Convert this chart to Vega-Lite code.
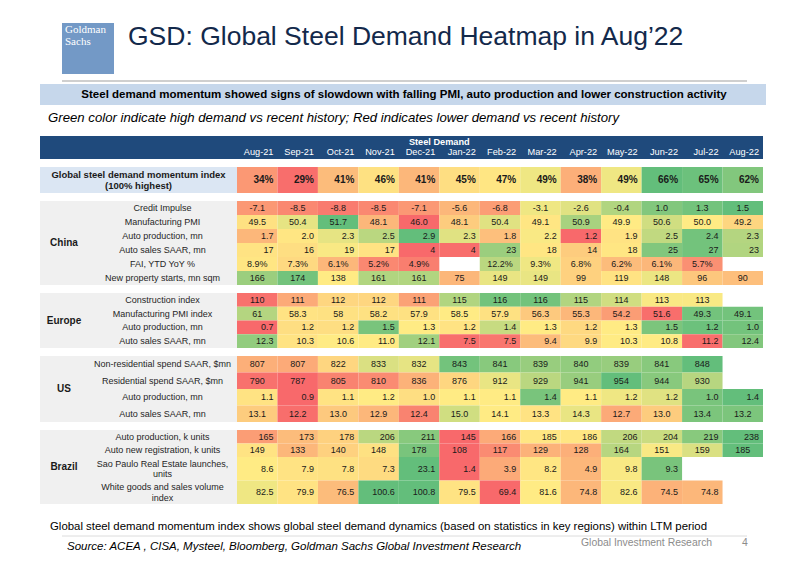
{
"$schema": "https://vega.github.io/schema/vega-lite/v6.json",
"background": "white",
"padding": {"left": 40, "top": 0, "right": 0, "bottom": 0},
"autosize": {"type": "pad"},
"spacing": 8,
"datasets": {
"months": [{"m":"Aug-21"},{"m":"Sep-21"},{"m":"Oct-21"},{"m":"Nov-21"},{"m":"Dec-21"},{"m":"Jan-22"},{"m":"Feb-22"},{"m":"Mar-22"},{"m":"Apr-22"},{"m":"May-22"},{"m":"Jun-22"},{"m":"Jul-22"},{"m":"Aug-22"}],
"cells": [
{"s":"Index","r":"Index","m":"Aug-21","v":"34%","c":0.18},
{"s":"Index","r":"Index","m":"Sep-21","v":"29%","c":0.02},
{"s":"Index","r":"Index","m":"Oct-21","v":"41%","c":0.32},
{"s":"Index","r":"Index","m":"Nov-21","v":"46%","c":0.46},
{"s":"Index","r":"Index","m":"Dec-21","v":"41%","c":0.30},
{"s":"Index","r":"Index","m":"Jan-22","v":"45%","c":0.45},
{"s":"Index","r":"Index","m":"Feb-22","v":"47%","c":0.48},
{"s":"Index","r":"Index","m":"Mar-22","v":"49%","c":0.55},
{"s":"Index","r":"Index","m":"Apr-22","v":"38%","c":0.27},
{"s":"Index","r":"Index","m":"May-22","v":"49%","c":0.55},
{"s":"Index","r":"Index","m":"Jun-22","v":"66%","c":1.0},
{"s":"Index","r":"Index","m":"Jul-22","v":"65%","c":0.97},
{"s":"Index","r":"Index","m":"Aug-22","v":"62%","c":0.9},

{"s":"China","r":"Credit Impulse","m":"Aug-21","v":"-7.1","c":0.18},
{"s":"China","r":"Credit Impulse","m":"Sep-21","v":"-8.5","c":0.12},
{"s":"China","r":"Credit Impulse","m":"Oct-21","v":"-8.8","c":0.07},
{"s":"China","r":"Credit Impulse","m":"Nov-21","v":"-8.5","c":0.12},
{"s":"China","r":"Credit Impulse","m":"Dec-21","v":"-7.1","c":0.18},
{"s":"China","r":"Credit Impulse","m":"Jan-22","v":"-5.6","c":0.3},
{"s":"China","r":"Credit Impulse","m":"Feb-22","v":"-6.8","c":0.2},
{"s":"China","r":"Credit Impulse","m":"Mar-22","v":"-3.1","c":0.55},
{"s":"China","r":"Credit Impulse","m":"Apr-22","v":"-2.6","c":0.6},
{"s":"China","r":"Credit Impulse","m":"May-22","v":"-0.4","c":0.75},
{"s":"China","r":"Credit Impulse","m":"Jun-22","v":"1.0","c":0.9},
{"s":"China","r":"Credit Impulse","m":"Jul-22","v":"1.3","c":0.95},
{"s":"China","r":"Credit Impulse","m":"Aug-22","v":"1.5","c":1.0},

{"s":"China","r":"Manufacturing PMI","m":"Aug-21","v":"49.5","c":0.46},
{"s":"China","r":"Manufacturing PMI","m":"Sep-21","v":"50.4","c":0.58},
{"s":"China","r":"Manufacturing PMI","m":"Oct-21","v":"51.7","c":1.0},
{"s":"China","r":"Manufacturing PMI","m":"Nov-21","v":"48.1","c":0.3},
{"s":"China","r":"Manufacturing PMI","m":"Dec-21","v":"46.0","c":0.0},
{"s":"China","r":"Manufacturing PMI","m":"Jan-22","v":"48.1","c":0.38},
{"s":"China","r":"Manufacturing PMI","m":"Feb-22","v":"50.4","c":0.6},
{"s":"China","r":"Manufacturing PMI","m":"Mar-22","v":"49.1","c":0.48},
{"s":"China","r":"Manufacturing PMI","m":"Apr-22","v":"50.9","c":0.78},
{"s":"China","r":"Manufacturing PMI","m":"May-22","v":"49.9","c":0.5},
{"s":"China","r":"Manufacturing PMI","m":"Jun-22","v":"50.6","c":0.65},
{"s":"China","r":"Manufacturing PMI","m":"Jul-22","v":"50.0","c":0.5},
{"s":"China","r":"Manufacturing PMI","m":"Aug-22","v":"49.2","c":0.42},

{"s":"China","r":"Auto production, mn","m":"Aug-21","v":"1.7","c":0.3},
{"s":"China","r":"Auto production, mn","m":"Sep-21","v":"2.0","c":0.48},
{"s":"China","r":"Auto production, mn","m":"Oct-21","v":"2.3","c":0.58},
{"s":"China","r":"Auto production, mn","m":"Nov-21","v":"2.5","c":0.72},
{"s":"China","r":"Auto production, mn","m":"Dec-21","v":"2.9","c":1.0},
{"s":"China","r":"Auto production, mn","m":"Jan-22","v":"2.3","c":0.6},
{"s":"China","r":"Auto production, mn","m":"Feb-22","v":"1.8","c":0.33},
{"s":"China","r":"Auto production, mn","m":"Mar-22","v":"2.2","c":0.52},
{"s":"China","r":"Auto production, mn","m":"Apr-22","v":"1.2","c":0.0},
{"s":"China","r":"Auto production, mn","m":"May-22","v":"1.9","c":0.47},
{"s":"China","r":"Auto production, mn","m":"Jun-22","v":"2.5","c":0.7},
{"s":"China","r":"Auto production, mn","m":"Jul-22","v":"2.4","c":0.95},
{"s":"China","r":"Auto production, mn","m":"Aug-22","v":"2.3","c":0.74},

{"s":"China","r":"Auto sales SAAR, mn","m":"Aug-21","v":"17","c":0.47},
{"s":"China","r":"Auto sales SAAR, mn","m":"Sep-21","v":"16","c":0.45},
{"s":"China","r":"Auto sales SAAR, mn","m":"Oct-21","v":"19","c":0.52},
{"s":"China","r":"Auto sales SAAR, mn","m":"Nov-21","v":"17","c":0.47},
{"s":"China","r":"Auto sales SAAR, mn","m":"Dec-21","v":"4","c":0.0},
{"s":"China","r":"Auto sales SAAR, mn","m":"Jan-22","v":"4","c":0.02},
{"s":"China","r":"Auto sales SAAR, mn","m":"Feb-22","v":"23","c":0.82},
{"s":"China","r":"Auto sales SAAR, mn","m":"Mar-22","v":"18","c":0.48},
{"s":"China","r":"Auto sales SAAR, mn","m":"Apr-22","v":"14","c":0.38},
{"s":"China","r":"Auto sales SAAR, mn","m":"May-22","v":"18","c":0.48},
{"s":"China","r":"Auto sales SAAR, mn","m":"Jun-22","v":"25","c":0.9},
{"s":"China","r":"Auto sales SAAR, mn","m":"Jul-22","v":"27","c":0.95},
{"s":"China","r":"Auto sales SAAR, mn","m":"Aug-22","v":"23","c":0.75},

{"s":"China","r":"FAI, YTD YoY %","m":"Aug-21","v":"8.9%","c":0.48},
{"s":"China","r":"FAI, YTD YoY %","m":"Sep-21","v":"7.3%","c":0.43},
{"s":"China","r":"FAI, YTD YoY %","m":"Oct-21","v":"6.1%","c":0.3},
{"s":"China","r":"FAI, YTD YoY %","m":"Nov-21","v":"5.2%","c":0.12},
{"s":"China","r":"FAI, YTD YoY %","m":"Dec-21","v":"4.9%","c":0.08},
{"s":"China","r":"FAI, YTD YoY %","m":"Feb-22","v":"12.2%","c":0.72},
{"s":"China","r":"FAI, YTD YoY %","m":"Mar-22","v":"9.3%","c":0.55},
{"s":"China","r":"FAI, YTD YoY %","m":"Apr-22","v":"6.8%","c":0.4},
{"s":"China","r":"FAI, YTD YoY %","m":"May-22","v":"6.2%","c":0.32},
{"s":"China","r":"FAI, YTD YoY %","m":"Jun-22","v":"6.1%","c":0.3},
{"s":"China","r":"FAI, YTD YoY %","m":"Jul-22","v":"5.7%","c":0.15},

{"s":"China","r":"New property starts, mn sqm","m":"Aug-21","v":"166","c":0.82},
{"s":"China","r":"New property starts, mn sqm","m":"Sep-21","v":"174","c":0.95},
{"s":"China","r":"New property starts, mn sqm","m":"Oct-21","v":"138","c":0.5},
{"s":"China","r":"New property starts, mn sqm","m":"Nov-21","v":"161","c":0.75},
{"s":"China","r":"New property starts, mn sqm","m":"Dec-21","v":"161","c":0.75},
{"s":"China","r":"New property starts, mn sqm","m":"Jan-22","v":"75","c":0.3},
{"s":"China","r":"New property starts, mn sqm","m":"Feb-22","v":"149","c":0.57},
{"s":"China","r":"New property starts, mn sqm","m":"Mar-22","v":"149","c":0.57},
{"s":"China","r":"New property starts, mn sqm","m":"Apr-22","v":"99","c":0.4},
{"s":"China","r":"New property starts, mn sqm","m":"May-22","v":"119","c":0.47},
{"s":"China","r":"New property starts, mn sqm","m":"Jun-22","v":"148","c":0.56},
{"s":"China","r":"New property starts, mn sqm","m":"Jul-22","v":"96","c":0.36},
{"s":"China","r":"New property starts, mn sqm","m":"Aug-22","v":"90","c":0.33},

{"s":"Europe","r":"Construction index","m":"Aug-21","v":"110","c":0.03},
{"s":"Europe","r":"Construction index","m":"Sep-21","v":"111","c":0.25},
{"s":"Europe","r":"Construction index","m":"Oct-21","v":"112","c":0.42},
{"s":"Europe","r":"Construction index","m":"Nov-21","v":"112","c":0.42},
{"s":"Europe","r":"Construction index","m":"Dec-21","v":"111","c":0.22},
{"s":"Europe","r":"Construction index","m":"Jan-22","v":"115","c":0.75},
{"s":"Europe","r":"Construction index","m":"Feb-22","v":"116","c":0.95},
{"s":"Europe","r":"Construction index","m":"Mar-22","v":"116","c":0.95},
{"s":"Europe","r":"Construction index","m":"Apr-22","v":"115","c":0.75},
{"s":"Europe","r":"Construction index","m":"May-22","v":"114","c":0.65},
{"s":"Europe","r":"Construction index","m":"Jun-22","v":"113","c":0.52},
{"s":"Europe","r":"Construction index","m":"Jul-22","v":"113","c":0.52},

{"s":"Europe","r":"Manufacturing PMI index","m":"Aug-21","v":"61","c":0.74},
{"s":"Europe","r":"Manufacturing PMI index","m":"Sep-21","v":"58.3","c":0.47},
{"s":"Europe","r":"Manufacturing PMI index","m":"Oct-21","v":"58","c":0.46},
{"s":"Europe","r":"Manufacturing PMI index","m":"Nov-21","v":"58.2","c":0.46},
{"s":"Europe","r":"Manufacturing PMI index","m":"Dec-21","v":"57.9","c":0.46},
{"s":"Europe","r":"Manufacturing PMI index","m":"Jan-22","v":"58.5","c":0.5},
{"s":"Europe","r":"Manufacturing PMI index","m":"Feb-22","v":"57.9","c":0.46},
{"s":"Europe","r":"Manufacturing PMI index","m":"Mar-22","v":"56.3","c":0.37},
{"s":"Europe","r":"Manufacturing PMI index","m":"Apr-22","v":"55.3","c":0.3},
{"s":"Europe","r":"Manufacturing PMI index","m":"May-22","v":"54.2","c":0.2},
{"s":"Europe","r":"Manufacturing PMI index","m":"Jun-22","v":"51.6","c":0.02},
{"s":"Europe","r":"Manufacturing PMI index","m":"Jul-22","v":"49.3","c":0.95},
{"s":"Europe","r":"Manufacturing PMI index","m":"Aug-22","v":"49.1","c":0.95},

{"s":"Europe","r":"Auto production, mn","m":"Aug-21","v":"0.7","c":0.0},
{"s":"Europe","r":"Auto production, mn","m":"Sep-21","v":"1.2","c":0.45},
{"s":"Europe","r":"Auto production, mn","m":"Oct-21","v":"1.2","c":0.45},
{"s":"Europe","r":"Auto production, mn","m":"Nov-21","v":"1.5","c":0.93},
{"s":"Europe","r":"Auto production, mn","m":"Dec-21","v":"1.3","c":0.5},
{"s":"Europe","r":"Auto production, mn","m":"Jan-22","v":"1.2","c":0.47},
{"s":"Europe","r":"Auto production, mn","m":"Feb-22","v":"1.4","c":0.68},
{"s":"Europe","r":"Auto production, mn","m":"Mar-22","v":"1.3","c":0.5},
{"s":"Europe","r":"Auto production, mn","m":"Apr-22","v":"1.2","c":0.43},
{"s":"Europe","r":"Auto production, mn","m":"May-22","v":"1.3","c":0.5},
{"s":"Europe","r":"Auto production, mn","m":"Jun-22","v":"1.5","c":0.92},
{"s":"Europe","r":"Auto production, mn","m":"Jul-22","v":"1.2","c":0.97},
{"s":"Europe","r":"Auto production, mn","m":"Aug-22","v":"1.0","c":0.95},

{"s":"Europe","r":"Auto sales SAAR, mn","m":"Aug-21","v":"12.3","c":0.85},
{"s":"Europe","r":"Auto sales SAAR, mn","m":"Sep-21","v":"10.3","c":0.47},
{"s":"Europe","r":"Auto sales SAAR, mn","m":"Oct-21","v":"10.6","c":0.5},
{"s":"Europe","r":"Auto sales SAAR, mn","m":"Nov-21","v":"11.0","c":0.5},
{"s":"Europe","r":"Auto sales SAAR, mn","m":"Dec-21","v":"12.1","c":0.8},
{"s":"Europe","r":"Auto sales SAAR, mn","m":"Jan-22","v":"7.5","c":0.02},
{"s":"Europe","r":"Auto sales SAAR, mn","m":"Feb-22","v":"7.5","c":0.05},
{"s":"Europe","r":"Auto sales SAAR, mn","m":"Mar-22","v":"9.4","c":0.32},
{"s":"Europe","r":"Auto sales SAAR, mn","m":"Apr-22","v":"9.9","c":0.43},
{"s":"Europe","r":"Auto sales SAAR, mn","m":"May-22","v":"10.3","c":0.5},
{"s":"Europe","r":"Auto sales SAAR, mn","m":"Jun-22","v":"10.8","c":0.5},
{"s":"Europe","r":"Auto sales SAAR, mn","m":"Jul-22","v":"11.2","c":0.02},
{"s":"Europe","r":"Auto sales SAAR, mn","m":"Aug-22","v":"12.4","c":0.9},

{"s":"US","r":"Non-residential spend SAAR, $mn","m":"Aug-21","v":"807","c":0.27},
{"s":"US","r":"Non-residential spend SAAR, $mn","m":"Sep-21","v":"807","c":0.25},
{"s":"US","r":"Non-residential spend SAAR, $mn","m":"Oct-21","v":"822","c":0.42},
{"s":"US","r":"Non-residential spend SAAR, $mn","m":"Nov-21","v":"833","c":0.62},
{"s":"US","r":"Non-residential spend SAAR, $mn","m":"Dec-21","v":"832","c":0.58},
{"s":"US","r":"Non-residential spend SAAR, $mn","m":"Jan-22","v":"843","c":0.95},
{"s":"US","r":"Non-residential spend SAAR, $mn","m":"Feb-22","v":"841","c":0.88},
{"s":"US","r":"Non-residential spend SAAR, $mn","m":"Mar-22","v":"839","c":0.83},
{"s":"US","r":"Non-residential spend SAAR, $mn","m":"Apr-22","v":"840","c":0.85},
{"s":"US","r":"Non-residential spend SAAR, $mn","m":"May-22","v":"839","c":0.83},
{"s":"US","r":"Non-residential spend SAAR, $mn","m":"Jun-22","v":"841","c":0.88},
{"s":"US","r":"Non-residential spend SAAR, $mn","m":"Jul-22","v":"848","c":1.0},

{"s":"US","r":"Residential spend SAAR, $mn","m":"Aug-21","v":"790","c":0.03},
{"s":"US","r":"Residential spend SAAR, $mn","m":"Sep-21","v":"787","c":0.0},
{"s":"US","r":"Residential spend SAAR, $mn","m":"Oct-21","v":"805","c":0.1},
{"s":"US","r":"Residential spend SAAR, $mn","m":"Nov-21","v":"810","c":0.13},
{"s":"US","r":"Residential spend SAAR, $mn","m":"Dec-21","v":"836","c":0.28},
{"s":"US","r":"Residential spend SAAR, $mn","m":"Jan-22","v":"876","c":0.42},
{"s":"US","r":"Residential spend SAAR, $mn","m":"Feb-22","v":"912","c":0.57},
{"s":"US","r":"Residential spend SAAR, $mn","m":"Mar-22","v":"929","c":0.72},
{"s":"US","r":"Residential spend SAAR, $mn","m":"Apr-22","v":"941","c":0.83},
{"s":"US","r":"Residential spend SAAR, $mn","m":"May-22","v":"954","c":1.0},
{"s":"US","r":"Residential spend SAAR, $mn","m":"Jun-22","v":"944","c":0.88},
{"s":"US","r":"Residential spend SAAR, $mn","m":"Jul-22","v":"930","c":0.73},

{"s":"US","r":"Auto production, mn","m":"Aug-21","v":"1.1","c":0.47},
{"s":"US","r":"Auto production, mn","m":"Sep-21","v":"0.9","c":0.0},
{"s":"US","r":"Auto production, mn","m":"Oct-21","v":"1.1","c":0.47},
{"s":"US","r":"Auto production, mn","m":"Nov-21","v":"1.2","c":0.5},
{"s":"US","r":"Auto production, mn","m":"Dec-21","v":"1.0","c":0.45},
{"s":"US","r":"Auto production, mn","m":"Jan-22","v":"1.1","c":0.5},
{"s":"US","r":"Auto production, mn","m":"Feb-22","v":"1.1","c":0.5},
{"s":"US","r":"Auto production, mn","m":"Mar-22","v":"1.4","c":0.93},
{"s":"US","r":"Auto production, mn","m":"Apr-22","v":"1.1","c":0.5},
{"s":"US","r":"Auto production, mn","m":"May-22","v":"1.2","c":0.55},
{"s":"US","r":"Auto production, mn","m":"Jun-22","v":"1.2","c":0.6},
{"s":"US","r":"Auto production, mn","m":"Jul-22","v":"1.0","c":0.93},
{"s":"US","r":"Auto production, mn","m":"Aug-22","v":"1.4","c":1.0},

{"s":"US","r":"Auto sales SAAR, mn","m":"Aug-21","v":"13.1","c":0.38},
{"s":"US","r":"Auto sales SAAR, mn","m":"Sep-21","v":"12.2","c":0.02},
{"s":"US","r":"Auto sales SAAR, mn","m":"Oct-21","v":"13.0","c":0.37},
{"s":"US","r":"Auto sales SAAR, mn","m":"Nov-21","v":"12.9","c":0.3},
{"s":"US","r":"Auto sales SAAR, mn","m":"Dec-21","v":"12.4","c":0.1},
{"s":"US","r":"Auto sales SAAR, mn","m":"Jan-22","v":"15.0","c":0.65},
{"s":"US","r":"Auto sales SAAR, mn","m":"Feb-22","v":"14.1","c":0.5},
{"s":"US","r":"Auto sales SAAR, mn","m":"Mar-22","v":"13.3","c":0.47},
{"s":"US","r":"Auto sales SAAR, mn","m":"Apr-22","v":"14.3","c":0.57},
{"s":"US","r":"Auto sales SAAR, mn","m":"May-22","v":"12.7","c":0.25},
{"s":"US","r":"Auto sales SAAR, mn","m":"Jun-22","v":"13.0","c":0.38},
{"s":"US","r":"Auto sales SAAR, mn","m":"Jul-22","v":"13.4","c":0.92},
{"s":"US","r":"Auto sales SAAR, mn","m":"Aug-22","v":"13.2","c":0.92},

{"s":"Brazil","r":"Auto production, k units","m":"Aug-21","v":"165","c":0.2},
{"s":"Brazil","r":"Auto production, k units","m":"Sep-21","v":"173","c":0.32},
{"s":"Brazil","r":"Auto production, k units","m":"Oct-21","v":"178","c":0.4},
{"s":"Brazil","r":"Auto production, k units","m":"Nov-21","v":"206","c":0.72},
{"s":"Brazil","r":"Auto production, k units","m":"Dec-21","v":"211","c":0.88},
{"s":"Brazil","r":"Auto production, k units","m":"Jan-22","v":"145","c":0.0},
{"s":"Brazil","r":"Auto production, k units","m":"Feb-22","v":"166","c":0.25},
{"s":"Brazil","r":"Auto production, k units","m":"Mar-22","v":"185","c":0.48},
{"s":"Brazil","r":"Auto production, k units","m":"Apr-22","v":"186","c":0.48},
{"s":"Brazil","r":"Auto production, k units","m":"May-22","v":"206","c":0.7},
{"s":"Brazil","r":"Auto production, k units","m":"Jun-22","v":"204","c":0.67},
{"s":"Brazil","r":"Auto production, k units","m":"Jul-22","v":"219","c":0.88},
{"s":"Brazil","r":"Auto production, k units","m":"Aug-22","v":"238","c":1.0},

{"s":"Brazil","r":"Auto new registration, k units","m":"Aug-21","v":"149","c":0.47},
{"s":"Brazil","r":"Auto new registration, k units","m":"Sep-21","v":"133","c":0.3},
{"s":"Brazil","r":"Auto new registration, k units","m":"Oct-21","v":"140","c":0.4},
{"s":"Brazil","r":"Auto new registration, k units","m":"Nov-21","v":"148","c":0.46},
{"s":"Brazil","r":"Auto new registration, k units","m":"Dec-21","v":"178","c":0.93},
{"s":"Brazil","r":"Auto new registration, k units","m":"Jan-22","v":"108","c":0.0},
{"s":"Brazil","r":"Auto new registration, k units","m":"Feb-22","v":"117","c":0.13},
{"s":"Brazil","r":"Auto new registration, k units","m":"Mar-22","v":"129","c":0.28},
{"s":"Brazil","r":"Auto new registration, k units","m":"Apr-22","v":"128","c":0.27},
{"s":"Brazil","r":"Auto new registration, k units","m":"May-22","v":"164","c":0.73},
{"s":"Brazil","r":"Auto new registration, k units","m":"Jun-22","v":"151","c":0.52},
{"s":"Brazil","r":"Auto new registration, k units","m":"Jul-22","v":"159","c":0.62},
{"s":"Brazil","r":"Auto new registration, k units","m":"Aug-22","v":"185","c":1.0},

{"s":"Brazil2","r":"Sao Paulo Real Estate launches,\nunits","m":"Aug-21","v":"8.6","c":0.5},
{"s":"Brazil2","r":"Sao Paulo Real Estate launches,\nunits","m":"Sep-21","v":"7.9","c":0.47},
{"s":"Brazil2","r":"Sao Paulo Real Estate launches,\nunits","m":"Oct-21","v":"7.8","c":0.46},
{"s":"Brazil2","r":"Sao Paulo Real Estate launches,\nunits","m":"Nov-21","v":"7.3","c":0.44},
{"s":"Brazil2","r":"Sao Paulo Real Estate launches,\nunits","m":"Dec-21","v":"23.1","c":1.0},
{"s":"Brazil2","r":"Sao Paulo Real Estate launches,\nunits","m":"Jan-22","v":"1.4","c":0.0},
{"s":"Brazil2","r":"Sao Paulo Real Estate launches,\nunits","m":"Feb-22","v":"3.9","c":0.25},
{"s":"Brazil2","r":"Sao Paulo Real Estate launches,\nunits","m":"Mar-22","v":"8.2","c":0.48},
{"s":"Brazil2","r":"Sao Paulo Real Estate launches,\nunits","m":"Apr-22","v":"4.9","c":0.3},
{"s":"Brazil2","r":"Sao Paulo Real Estate launches,\nunits","m":"May-22","v":"9.8","c":0.52},
{"s":"Brazil2","r":"Sao Paulo Real Estate launches,\nunits","m":"Jun-22","v":"9.3","c":0.93},

{"s":"Brazil2","r":"White goods and sales volume\nindex","m":"Aug-21","v":"82.5","c":0.55},
{"s":"Brazil2","r":"White goods and sales volume\nindex","m":"Sep-21","v":"79.9","c":0.47},
{"s":"Brazil2","r":"White goods and sales volume\nindex","m":"Oct-21","v":"76.5","c":0.32},
{"s":"Brazil2","r":"White goods and sales volume\nindex","m":"Nov-21","v":"100.6","c":1.0},
{"s":"Brazil2","r":"White goods and sales volume\nindex","m":"Dec-21","v":"100.8","c":1.0},
{"s":"Brazil2","r":"White goods and sales volume\nindex","m":"Jan-22","v":"79.5","c":0.47},
{"s":"Brazil2","r":"White goods and sales volume\nindex","m":"Feb-22","v":"69.4","c":0.0},
{"s":"Brazil2","r":"White goods and sales volume\nindex","m":"Mar-22","v":"81.6","c":0.5},
{"s":"Brazil2","r":"White goods and sales volume\nindex","m":"Apr-22","v":"74.8","c":0.3},
{"s":"Brazil2","r":"White goods and sales volume\nindex","m":"May-22","v":"82.6","c":0.52},
{"s":"Brazil2","r":"White goods and sales volume\nindex","m":"Jun-22","v":"74.5","c":0.28},
{"s":"Brazil2","r":"White goods and sales volume\nindex","m":"Jul-22","v":"74.8","c":0.3}
]
},
"vconcat": [
{
"width": 725, "height": 128,
"data": {"values": [{}]},
"layer": [
{"mark": {"type": "rect", "color": "#7399c6"}, "encoding": {"x": {"value": 22}, "x2": {"value": 74}, "y": {"value": 23}, "y2": {"value": 74}}},
{"data": {"values": [{"t": "Goldman\nSachs"}]}, "mark": {"type": "text", "font": "Liberation Serif", "fontSize": 11, "lineBreak": "\n", "lineHeight": 12, "color": "white", "align": "left", "baseline": "alphabetic"}, "encoding": {"x": {"value": 25}, "y": {"value": 33}, "text": {"field": "t"}}},
{"data": {"values": [{"t": "GSD: Global Steel Demand Heatmap in Aug’22"}]}, "mark": {"type": "text", "fontSize": 26.5, "color": "#13294b", "align": "left", "baseline": "alphabetic"}, "encoding": {"x": {"value": 88}, "y": {"value": 45}, "text": {"field": "t"}}},
{"mark": {"type": "rule", "color": "#cfcfcf", "strokeWidth": 2}, "encoding": {"x": {"value": 22}, "x2": {"value": 707}, "y": {"value": 81}}},
{"mark": {"type": "rect", "color": "#c6d7eb"}, "encoding": {"x": {"value": 0}, "x2": {"value": 726}, "y": {"value": 84}, "y2": {"value": 105}}},
{"data": {"values": [{"t": "Steel demand momentum showed signs of slowdown with falling PMI, auto production and lower construction activity"}]}, "mark": {"type": "text", "fontSize": 11.5, "fontWeight": "bold", "color": "#000000", "align": "center", "baseline": "middle"}, "encoding": {"x": {"value": 364}, "y": {"value": 95}, "text": {"field": "t"}}},
{"data": {"values": [{"t": "Green color indicate high demand vs recent history; Red indicates lower demand vs recent history"}]}, "mark": {"type": "text", "fontSize": 13.2, "fontStyle": "italic", "color": "#000000", "align": "left", "baseline": "middle"}, "encoding": {"x": {"value": 8}, "y": {"value": 118}, "text": {"field": "t"}}}
]
},
{
"hconcat": [
{"width": 197, "height": 23, "view": {"fill": "#1f4a7c", "stroke": null}, "data": {"values": [{"t": ""}]}, "mark": {"type": "text"}, "encoding": {"text": {"field": "t"}}},
{"width": 526, "height": 23, "view": {"fill": "#1f4a7c", "stroke": null},
 "layer": [
 {"data": {"name": "months"}, "mark": {"type": "text", "align": "right", "dx": -4, "baseline": "middle", "color": "white", "fontSize": 9.2},
  "encoding": {"x": {"field": "m", "type": "ordinal", "bandPosition": 1, "axis": null, "scale": {"type": "band", "domain": ["Aug-21","Sep-21","Oct-21","Nov-21","Dec-21","Jan-22","Feb-22","Mar-22","Apr-22","May-22","Jun-22","Jul-22","Aug-22"], "paddingInner": 0, "paddingOuter": 0}}, "y": {"value": 16}, "text": {"field": "m"}}},
 {"data": {"values": [{"t": "Steel Demand", "m": "Jan-22"}]}, "mark": {"type": "text", "align": "center", "baseline": "middle", "color": "white", "fontSize": 9.2, "fontWeight": "bold"},
  "encoding": {"x": {"field": "m", "type": "ordinal", "bandPosition": 0, "axis": null}, "y": {"value": 6}, "text": {"field": "t"}}}
 ]
}
],
"spacing": 0
},
{
"hconcat": [
{"width": 197, "height": 26, "view": {"fill": "#dbe6f3", "stroke": null}, "data": {"values": [{"t": "Global steel demand momentum index\n(100% highest)"}]}, "mark": {"type": "text", "fontWeight": "bold", "fontSize": 9.5, "lineBreak": "\n", "lineHeight": 11, "dy": -5.5, "baseline": "middle", "align": "center"}, "encoding": {"text": {"field": "t"}}},
{"width": 526, "height": 26, "data": {"name": "cells"}, "transform": [{"filter": {"field": "s", "equal": "Index"}}],
 "encoding": {"x": {"field": "m", "type": "ordinal", "axis": null, "scale": {"type": "band", "domain": ["Aug-21","Sep-21","Oct-21","Nov-21","Dec-21","Jan-22","Feb-22","Mar-22","Apr-22","May-22","Jun-22","Jul-22","Aug-22"], "paddingInner": 0, "paddingOuter": 0}},
  "y": {"field": "r", "type": "nominal", "axis": null, "scale": {"type": "band", "domain": ["Index"], "paddingInner": 0, "paddingOuter": 0}}},
 "layer": [
 {"mark": {"type": "rect"}, "encoding": {"color": {"field": "c", "type": "quantitative", "legend": null, "scale": {"domain": [0, 0.5, 1], "range": ["#f8696b", "#ffeb84", "#63be7b"], "interpolate": "rgb"}}}},
 {"mark": {"type": "text", "align": "right", "dx": -4, "baseline": "middle", "fontWeight": "bold", "fontSize": 10}, "encoding": {"x": {"field": "m", "type": "ordinal", "bandPosition": 1, "axis": null}, "text": {"field": "v"}}}
 ]
}
],
"spacing": 0
},
{
"hconcat": [
{"width": 48, "height": 84, "view": {"fill": "#f0f0f0", "stroke": null}, "data": {"values": [{"t": "China"}]}, "mark": {"type": "text", "fontWeight": "bold", "fontSize": 10, "baseline": "middle"}, "encoding": {"text": {"field": "t"}}},
{"width": 149, "height": 84, "view": {"fill": "#f0f0f0", "stroke": null}, "data": {"values": [{"r": "Credit Impulse"}, {"r": "Manufacturing PMI"}, {"r": "Auto production, mn"}, {"r": "Auto sales SAAR, mn"}, {"r": "FAI, YTD YoY %"}, {"r": "New property starts, mn sqm"}]},
 "mark": {"type": "text", "baseline": "middle", "color": "#262626"},
 "encoding": {"y": {"field": "r", "type": "nominal", "axis": null, "scale": {"type": "band", "domain": ["Credit Impulse", "Manufacturing PMI", "Auto production, mn", "Auto sales SAAR, mn", "FAI, YTD YoY %", "New property starts, mn sqm"], "paddingInner": 0, "paddingOuter": 0}}, "text": {"field": "r"}}},
{"width": 526, "height": 84, "data": {"name": "cells"}, "transform": [{"filter": {"field": "s", "equal": "China"}}],
 "encoding": {"x": {"field": "m", "type": "ordinal", "axis": null, "scale": {"type": "band", "domain": ["Aug-21","Sep-21","Oct-21","Nov-21","Dec-21","Jan-22","Feb-22","Mar-22","Apr-22","May-22","Jun-22","Jul-22","Aug-22"], "paddingInner": 0, "paddingOuter": 0}},
  "y": {"field": "r", "type": "nominal", "axis": null, "scale": {"type": "band", "domain": ["Credit Impulse", "Manufacturing PMI", "Auto production, mn", "Auto sales SAAR, mn", "FAI, YTD YoY %", "New property starts, mn sqm"], "paddingInner": 0, "paddingOuter": 0}}},
 "layer": [
 {"mark": {"type": "rect"}, "encoding": {"color": {"field": "c", "type": "quantitative", "legend": null, "scale": {"domain": [0, 0.5, 1], "range": ["#f8696b", "#ffeb84", "#63be7b"], "interpolate": "rgb"}}}},
 {"transform": [{"filter": {"not": {"field": "r", "oneOf": ["Auto production, mn", "Auto sales SAAR, mn"]}}}], "mark": {"type": "text", "align": "center", "baseline": "middle"}, "encoding": {"text": {"field": "v"}}},
 {"transform": [{"filter": {"field": "r", "oneOf": ["Auto production, mn", "Auto sales SAAR, mn"]}}], "mark": {"type": "text", "align": "right", "dx": -4, "baseline": "middle"}, "encoding": {"x": {"field": "m", "type": "ordinal", "bandPosition": 1, "axis": null}, "text": {"field": "v"}}}
 ]
}
],
"spacing": 0
},
{
"hconcat": [
{"width": 48, "height": 55, "view": {"fill": "#f0f0f0", "stroke": null}, "data": {"values": [{"t": "Europe"}]}, "mark": {"type": "text", "fontWeight": "bold", "fontSize": 10, "baseline": "middle"}, "encoding": {"text": {"field": "t"}}},
{"width": 149, "height": 55, "view": {"fill": "#f0f0f0", "stroke": null}, "data": {"values": [{"r": "Construction index"}, {"r": "Manufacturing PMI index"}, {"r": "Auto production, mn"}, {"r": "Auto sales SAAR, mn"}]},
 "mark": {"type": "text", "baseline": "middle", "color": "#262626"},
 "encoding": {"y": {"field": "r", "type": "nominal", "axis": null, "scale": {"type": "band", "domain": ["Construction index", "Manufacturing PMI index", "Auto production, mn", "Auto sales SAAR, mn"], "paddingInner": 0, "paddingOuter": 0}}, "text": {"field": "r"}}},
{"width": 526, "height": 55, "data": {"name": "cells"}, "transform": [{"filter": {"field": "s", "equal": "Europe"}}],
 "encoding": {"x": {"field": "m", "type": "ordinal", "axis": null, "scale": {"type": "band", "domain": ["Aug-21","Sep-21","Oct-21","Nov-21","Dec-21","Jan-22","Feb-22","Mar-22","Apr-22","May-22","Jun-22","Jul-22","Aug-22"], "paddingInner": 0, "paddingOuter": 0}},
  "y": {"field": "r", "type": "nominal", "axis": null, "scale": {"type": "band", "domain": ["Construction index", "Manufacturing PMI index", "Auto production, mn", "Auto sales SAAR, mn"], "paddingInner": 0, "paddingOuter": 0}}},
 "layer": [
 {"mark": {"type": "rect"}, "encoding": {"color": {"field": "c", "type": "quantitative", "legend": null, "scale": {"domain": [0, 0.5, 1], "range": ["#f8696b", "#ffeb84", "#63be7b"], "interpolate": "rgb"}}}},
 {"transform": [{"filter": {"not": {"field": "r", "oneOf": ["Auto production, mn", "Auto sales SAAR, mn"]}}}], "mark": {"type": "text", "align": "center", "baseline": "middle"}, "encoding": {"text": {"field": "v"}}},
 {"transform": [{"filter": {"field": "r", "oneOf": ["Auto production, mn", "Auto sales SAAR, mn"]}}], "mark": {"type": "text", "align": "right", "dx": -4, "baseline": "middle"}, "encoding": {"x": {"field": "m", "type": "ordinal", "bandPosition": 1, "axis": null}, "text": {"field": "v"}}}
 ]
}
],
"spacing": 0
},
{
"hconcat": [
{"width": 48, "height": 66, "view": {"fill": "#f0f0f0", "stroke": null}, "data": {"values": [{"t": "US"}]}, "mark": {"type": "text", "fontWeight": "bold", "fontSize": 10, "baseline": "middle"}, "encoding": {"text": {"field": "t"}}},
{"width": 149, "height": 66, "view": {"fill": "#f0f0f0", "stroke": null}, "data": {"values": [{"r": "Non-residential spend SAAR, $mn"}, {"r": "Residential spend SAAR, $mn"}, {"r": "Auto production, mn"}, {"r": "Auto sales SAAR, mn"}]},
 "mark": {"type": "text", "baseline": "middle", "color": "#262626"},
 "encoding": {"y": {"field": "r", "type": "nominal", "axis": null, "scale": {"type": "band", "domain": ["Non-residential spend SAAR, $mn", "Residential spend SAAR, $mn", "Auto production, mn", "Auto sales SAAR, mn"], "paddingInner": 0, "paddingOuter": 0}}, "text": {"field": "r"}}},
{"width": 526, "height": 66, "data": {"name": "cells"}, "transform": [{"filter": {"field": "s", "equal": "US"}}],
 "encoding": {"x": {"field": "m", "type": "ordinal", "axis": null, "scale": {"type": "band", "domain": ["Aug-21","Sep-21","Oct-21","Nov-21","Dec-21","Jan-22","Feb-22","Mar-22","Apr-22","May-22","Jun-22","Jul-22","Aug-22"], "paddingInner": 0, "paddingOuter": 0}},
  "y": {"field": "r", "type": "nominal", "axis": null, "scale": {"type": "band", "domain": ["Non-residential spend SAAR, $mn", "Residential spend SAAR, $mn", "Auto production, mn", "Auto sales SAAR, mn"], "paddingInner": 0, "paddingOuter": 0}}},
 "layer": [
 {"mark": {"type": "rect"}, "encoding": {"color": {"field": "c", "type": "quantitative", "legend": null, "scale": {"domain": [0, 0.5, 1], "range": ["#f8696b", "#ffeb84", "#63be7b"], "interpolate": "rgb"}}}},
 {"transform": [{"filter": {"not": {"field": "r", "oneOf": ["Auto production, mn"]}}}], "mark": {"type": "text", "align": "center", "baseline": "middle"}, "encoding": {"text": {"field": "v"}}},
 {"transform": [{"filter": {"field": "r", "oneOf": ["Auto production, mn"]}}], "mark": {"type": "text", "align": "right", "dx": -4, "baseline": "middle"}, "encoding": {"x": {"field": "m", "type": "ordinal", "bandPosition": 1, "axis": null}, "text": {"field": "v"}}}
 ]
}
],
"spacing": 0
},
{
"hconcat": [
{"width": 48, "height": 74, "view": {"fill": "#f0f0f0", "stroke": null}, "data": {"values": [{"t": "Brazil"}]}, "mark": {"type": "text", "fontWeight": "bold", "fontSize": 10, "baseline": "middle"}, "encoding": {"text": {"field": "t"}}},
{"vconcat": [
 {"hconcat": [
  {"width": 149, "height": 27, "view": {"fill": "#f0f0f0", "stroke": null}, "data": {"values": [{"r": "Auto production, k units"}, {"r": "Auto new registration, k units"}]},
   "mark": {"type": "text", "baseline": "middle", "color": "#262626"},
   "encoding": {"y": {"field": "r", "type": "nominal", "axis": null, "scale": {"type": "band", "domain": ["Auto production, k units", "Auto new registration, k units"], "paddingInner": 0, "paddingOuter": 0}}, "text": {"field": "r"}}},
  {"width": 526, "height": 27, "data": {"name": "cells"}, "transform": [{"filter": {"field": "s", "equal": "Brazil"}}],
   "encoding": {"x": {"field": "m", "type": "ordinal", "axis": null, "scale": {"type": "band", "domain": ["Aug-21","Sep-21","Oct-21","Nov-21","Dec-21","Jan-22","Feb-22","Mar-22","Apr-22","May-22","Jun-22","Jul-22","Aug-22"], "paddingInner": 0, "paddingOuter": 0}},
    "y": {"field": "r", "type": "nominal", "axis": null, "scale": {"type": "band", "domain": ["Auto production, k units", "Auto new registration, k units"], "paddingInner": 0, "paddingOuter": 0}}},
   "layer": [
   {"mark": {"type": "rect"}, "encoding": {"color": {"field": "c", "type": "quantitative", "legend": null, "scale": {"domain": [0, 0.5, 1], "range": ["#f8696b", "#ffeb84", "#63be7b"], "interpolate": "rgb"}}}},
   {"transform": [{"filter": {"field": "r", "equal": "Auto new registration, k units"}}], "mark": {"type": "text", "align": "center", "baseline": "middle"}, "encoding": {"text": {"field": "v"}}},
   {"transform": [{"filter": {"field": "r", "equal": "Auto production, k units"}}], "mark": {"type": "text", "align": "right", "dx": -4, "baseline": "middle"}, "encoding": {"x": {"field": "m", "type": "ordinal", "bandPosition": 1, "axis": null}, "text": {"field": "v"}}}
   ]
  }
 ], "spacing": 0},
 {"hconcat": [
  {"width": 149, "height": 47, "view": {"fill": "#f0f0f0", "stroke": null}, "data": {"values": [{"r": "Sao Paulo Real Estate launches,\nunits"}, {"r": "White goods and sales volume\nindex"}]},
   "mark": {"type": "text", "baseline": "middle", "color": "#262626", "lineBreak": "\n", "lineHeight": 10.5, "dy": -5.25},
   "encoding": {"y": {"field": "r", "type": "nominal", "axis": null, "scale": {"type": "band", "domain": ["Sao Paulo Real Estate launches,\nunits", "White goods and sales volume\nindex"], "paddingInner": 0, "paddingOuter": 0}}, "text": {"field": "r"}}},
  {"width": 526, "height": 47, "data": {"name": "cells"}, "transform": [{"filter": {"field": "s", "equal": "Brazil2"}}],
   "encoding": {"x": {"field": "m", "type": "ordinal", "axis": null, "scale": {"type": "band", "domain": ["Aug-21","Sep-21","Oct-21","Nov-21","Dec-21","Jan-22","Feb-22","Mar-22","Apr-22","May-22","Jun-22","Jul-22","Aug-22"], "paddingInner": 0, "paddingOuter": 0}},
    "y": {"field": "r", "type": "nominal", "axis": null, "scale": {"type": "band", "domain": ["Sao Paulo Real Estate launches,\nunits", "White goods and sales volume\nindex"], "paddingInner": 0, "paddingOuter": 0}}},
   "layer": [
   {"mark": {"type": "rect"}, "encoding": {"color": {"field": "c", "type": "quantitative", "legend": null, "scale": {"domain": [0, 0.5, 1], "range": ["#f8696b", "#ffeb84", "#63be7b"], "interpolate": "rgb"}}}},
   {"mark": {"type": "text", "align": "right", "dx": -4, "baseline": "middle"}, "encoding": {"x": {"field": "m", "type": "ordinal", "bandPosition": 1, "axis": null}, "text": {"field": "v"}}}
   ]
  }
 ], "spacing": 0}
], "spacing": 0}
],
"spacing": 0
},
{
"width": 725, "height": 55,
"data": {"values": [{}]},
"layer": [
{"data": {"values": [{"t": "Global steel demand momentum index shows global steel demand dynamics (based on statistics in key regions) within LTM period"}]}, "mark": {"type": "text", "fontSize": 11.4, "color": "#000000", "align": "left", "baseline": "middle"}, "encoding": {"x": {"value": 10}, "y": {"value": 15}, "text": {"field": "t"}}},
{"mark": {"type": "rule", "color": "#dcdcdc", "strokeWidth": 1}, "encoding": {"x": {"value": 22}, "x2": {"value": 707}, "y": {"value": 24}}},
{"data": {"values": [{"t": "Source: ACEA , CISA, Mysteel, Bloomberg, Goldman Sachs Global Investment Research"}]}, "mark": {"type": "text", "fontSize": 11.5, "fontStyle": "italic", "color": "#000000", "align": "left", "baseline": "middle"}, "encoding": {"x": {"value": 27}, "y": {"value": 35}, "text": {"field": "t"}}},
{"data": {"values": [{"t": "Global Investment Research"}]}, "mark": {"type": "text", "fontSize": 10.4, "color": "#8c8c8c", "align": "left", "baseline": "middle"}, "encoding": {"x": {"value": 541}, "y": {"value": 31}, "text": {"field": "t"}}},
{"data": {"values": [{"t": "4"}]}, "mark": {"type": "text", "fontSize": 10.4, "color": "#8c8c8c", "align": "left", "baseline": "middle"}, "encoding": {"x": {"value": 702}, "y": {"value": 31}, "text": {"field": "t"}}}
]
}
],
"config": {
"view": {"stroke": null},
"text": {"font": "Liberation Sans", "fontSize": 9, "color": "#1a1a1a"}
}
}
